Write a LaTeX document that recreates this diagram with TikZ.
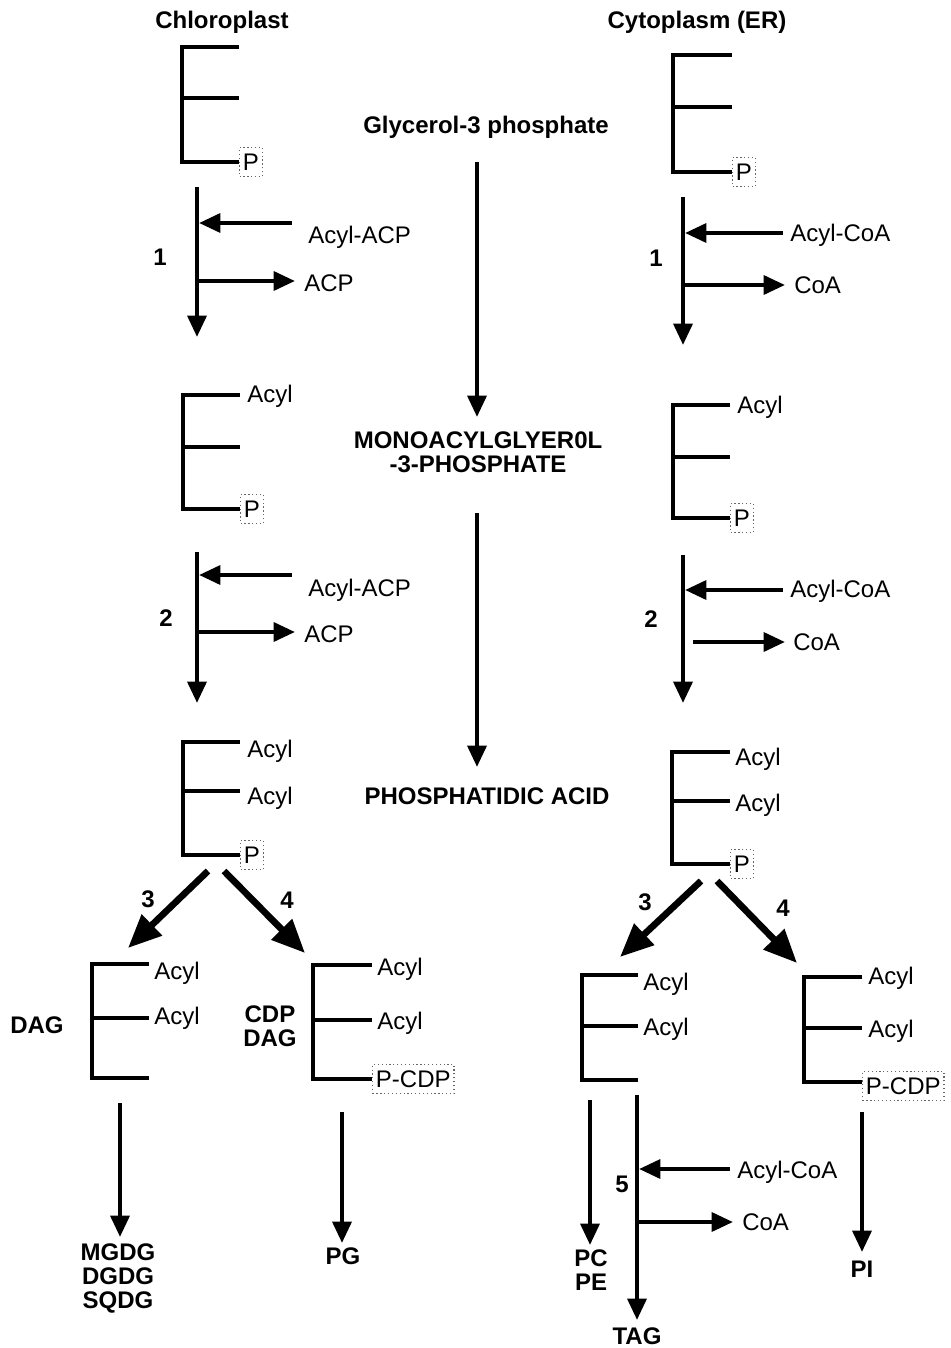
\documentclass[tikz,border=0pt]{standalone}
\usepackage{fontspec}
\setmainfont{Liberation Sans}
\usetikzlibrary{arrows.meta}

\begin{document}
\begin{tikzpicture}
		[x=0.75pt, y=-0.75pt, inner sep=0pt, line join=miter,
		txt/.style		= {font=\fontsize{18}{18}\selectfont, text height=13pt, text depth=0pt},
		side/.style		= {txt, anchor=west},
		hdr/.style		= {font=\fontsize{18}{18}\selectfont\bfseries, text height=13pt, text depth=0pt},
		stack/.style	= {font=\fontsize{18}{18}\selectfont\bfseries, align=center},
		pbox/.style		= {txt, anchor=west, draw=black!60, dotted, line width=0.9pt, inner xsep=2.5pt, inner ysep=4.5pt},
		bone/.style		= {line width=3.3pt},
		paths/.style	= {-{Triangle[length=16pt,width=14pt]}, line width=3.2pt},
		branch/.style	= {-{Triangle[length=25pt,width=21pt]}, line width=5pt}]
		
		\useasboundingbox (0,0) rectangle (950,1348);
		
		% headings and central pathway
		\node at (222,20)		[hdr]	(chl)	{Chloroplast};
		\node at (697,20)		[hdr]	(cyt)	{Cytoplasm (ER)};
		\node at (486,125)		[hdr]	(g3p)	{Glycerol-3 phosphate};
		\node at (478,452)		[stack]	(lpa)	{MONOACYLGLYER0L\\-3-PHOSPHATE};
		\node at (487,796)		[hdr]	(pa)	{PHOSPHATIDIC ACID};
		
		\coordinate (g3pA) at (477,162);	\coordinate (lpaA) at (477,417);
		\coordinate (lpaB) at (477,513);	\coordinate (paA)  at (477,767);
		\draw [paths] (g3pA) -- (lpaA);
		\draw [paths] (lpaB) -- (paA);
		
		% chloroplast backbones
		\draw [bone] (239,47) -- (182,47) -- (182,162) -- (239,162) (182,98) -- (239,98);
		\draw [bone] (240,395) -- (183,395) -- (183,509) -- (240,509) (183,447) -- (240,447);
		\draw [bone] (240,742) -- (183,742) -- (183,855) -- (240,855) (183,791) -- (240,791);
		\draw [bone] (149,964) -- (92,964) -- (92,1078) -- (149,1078) (92,1018) -- (149,1018);
		\draw [bone] (372,965) -- (313,965) -- (313,1079) -- (372,1079) (313,1020) -- (372,1020);
		
		\node at (239,162)		[pbox]	(pL1)	{P};
		\node at (240,509)		[pbox]	(pL2)	{P};
		\node at (240,855)		[pbox]	(pL3)	{P};
		\node at (372,1079)		[pbox]	(cdpL)	{P-CDP};
		
		\node at (247,394)		[side]	(aL2)	{Acyl};
		\node at (247,749)		[side]	(aL3a)	{Acyl};
		\node at (247,796)		[side]	(aL3b)	{Acyl};
		\node at (154,971)		[side]	(aL4a)	{Acyl};
		\node at (154,1016)		[side]	(aL4b)	{Acyl};
		\node at (377,967)		[side]	(aL5a)	{Acyl};
		\node at (377,1021)		[side]	(aL5b)	{Acyl};
		
		\node at (308,235)		[side]	(acpL1)	{Acyl-ACP};
		\node at (304,283)		[side]	(aoL1)	{ACP};
		\node at (308,588)		[side]	(acpL2)	{Acyl-ACP};
		\node at (304,634)		[side]	(aoL2)	{ACP};
		
		\node at (160,257)		[hdr]	(nL1)	{1};
		\node at (166,618)		[hdr]	(nL2)	{2};
		\node at (148,899)		[hdr]	(nL3)	{3};
		\node at (287,900)		[hdr]	(nL4)	{4};
		
		\node at (37,1025)		[hdr]	(dag)	{DAG};
		\node at (270,1026)		[stack]	(cdpdag) {CDP\\DAG};
		\node at (118,1278)		[stack]	(gal)	{MGDG\\DGDG\\SQDG};
		\node at (343,1256)		[hdr]	(pg)	{PG};
		
		% chloroplast arrows
		\coordinate (sL1) at (197,187);		\coordinate (eL1) at (197,337);
		\coordinate (iL1) at (292,223);		\coordinate (oL1) at (295,281);
		\coordinate (sL2) at (197,552);		\coordinate (eL2) at (197,703);
		\coordinate (iL2) at (292,575);		\coordinate (oL2) at (295,632);
		\draw [paths] (sL1) -- (eL1);
		\draw [paths] (iL1) -- (iL1 -| 199,0);
		\draw [paths] (oL1 -| 199,0) -- (oL1);
		\draw [paths] (sL2) -- (eL2);
		\draw [paths] (iL2) -- (iL2 -| 199,0);
		\draw [paths] (oL2 -| 199,0) -- (oL2);
		
		\coordinate (bL) at (216,871);
		\coordinate (dagT) at (128,948);	\coordinate (cdpT) at (305,953);
		\draw [branch] ([xshift=-6pt]bL) -- (dagT);
		\draw [branch] ([xshift=6pt]bL) -- (cdpT);
		
		\coordinate (galS) at (120,1103);	\coordinate (galE) at (120,1237);
		\coordinate (pgS) at (342,1112);	\coordinate (pgE) at (342,1243);
		\draw [paths] (galS) -- (galE);
		\draw [paths] (pgS) -- (pgE);
		
		% cytoplasm backbones
		\draw [bone] (732,55) -- (673,55) -- (673,172) -- (732,172) (673,107) -- (732,107);
		\draw [bone] (730,405) -- (673,405) -- (673,518) -- (730,518) (673,457) -- (730,457);
		\draw [bone] (730,752) -- (672,752) -- (672,864) -- (730,864) (672,801) -- (730,801);
		\draw [bone] (638,975) -- (582,975) -- (582,1080) -- (638,1080) (582,1026) -- (638,1026);
		\draw [bone] (862,977) -- (804,977) -- (804,1082) -- (862,1082) (804,1028) -- (862,1028);
		
		\node at (732,172)		[pbox]	(pR1)	{P};
		\node at (730,518)		[pbox]	(pR2)	{P};
		\node at (730,864)		[pbox]	(pR3)	{P};
		\node at (862,1086)		[pbox]	(cdpR)	{P-CDP};
		
		\node at (737,405)		[side]	(aR2)	{Acyl};
		\node at (735,757)		[side]	(aR3a)	{Acyl};
		\node at (735,803)		[side]	(aR3b)	{Acyl};
		\node at (643,982)		[side]	(aR4a)	{Acyl};
		\node at (643,1027)		[side]	(aR4b)	{Acyl};
		\node at (868,976)		[side]	(aR5a)	{Acyl};
		\node at (868,1029)		[side]	(aR5b)	{Acyl};
		
		\node at (790,233)		[side]	(coaR1)	{Acyl-CoA};
		\node at (794,285)		[side]	(coR1)	{CoA};
		\node at (790,589)		[side]	(coaR2)	{Acyl-CoA};
		\node at (793,642)		[side]	(coR2)	{CoA};
		\node at (737,1170)		[side]	(coaR5)	{Acyl-CoA};
		\node at (742,1222)		[side]	(coR5)	{CoA};
		
		\node at (656,258)		[hdr]	(nR1)	{1};
		\node at (651,619)		[hdr]	(nR2)	{2};
		\node at (645,902)		[hdr]	(nR3)	{3};
		\node at (783,908)		[hdr]	(nR4)	{4};
		\node at (622,1184)		[hdr]	(nR5)	{5};
		
		\node at (591,1270)		[stack]	(pcpe)	{PC\\PE};
		\node at (637,1336)		[hdr]	(tag)	{TAG};
		\node at (862,1269)		[hdr]	(pi)	{PI};
		
		% cytoplasm arrows
		\coordinate (sR1) at (683,197);		\coordinate (eR1) at (683,345);
		\coordinate (iR1) at (783,233);		\coordinate (oR1) at (785,285);
		\coordinate (sR2) at (683,555);		\coordinate (eR2) at (683,703);
		\coordinate (iR2) at (783,590);		\coordinate (oR2) at (785,642);
		\draw [paths] (sR1) -- (eR1);
		\draw [paths] (iR1) -- (iR1 -| 685,0);
		\draw [paths] (oR1 -| 685,0) -- (oR1);
		\draw [paths] (sR2) -- (eR2);
		\draw [paths] (iR2) -- (iR2 -| 685,0);
		\draw [paths] (oR2 -| 693,0) -- (oR2);
		
		\coordinate (bR) at (709,881);
		\coordinate (pcT) at (620,957);		\coordinate (piT) at (797,963);
		\draw [branch] ([xshift=-6pt]bR) -- (pcT);
		\draw [branch] ([xshift=6pt]bR) -- (piT);
		
		\coordinate (pcS) at (590,1100);	\coordinate (pcE) at (590,1245);
		\coordinate (tagS) at (637,1095);	\coordinate (tagE) at (637,1320);
		\coordinate (iR5) at (730,1169);	\coordinate (oR5) at (733,1222);
		\coordinate (piS) at (862,1112);	\coordinate (piE) at (862,1252);
		\draw [paths] (pcS) -- (pcE);
		\draw [paths] (tagS) -- (tagE);
		\draw [paths] (iR5) -- (iR5 -| 639,0);
		\draw [paths] (oR5 -| 639,0) -- (oR5);
		\draw [paths] (piS) -- (piE);
		
\end{tikzpicture}
\end{document}
